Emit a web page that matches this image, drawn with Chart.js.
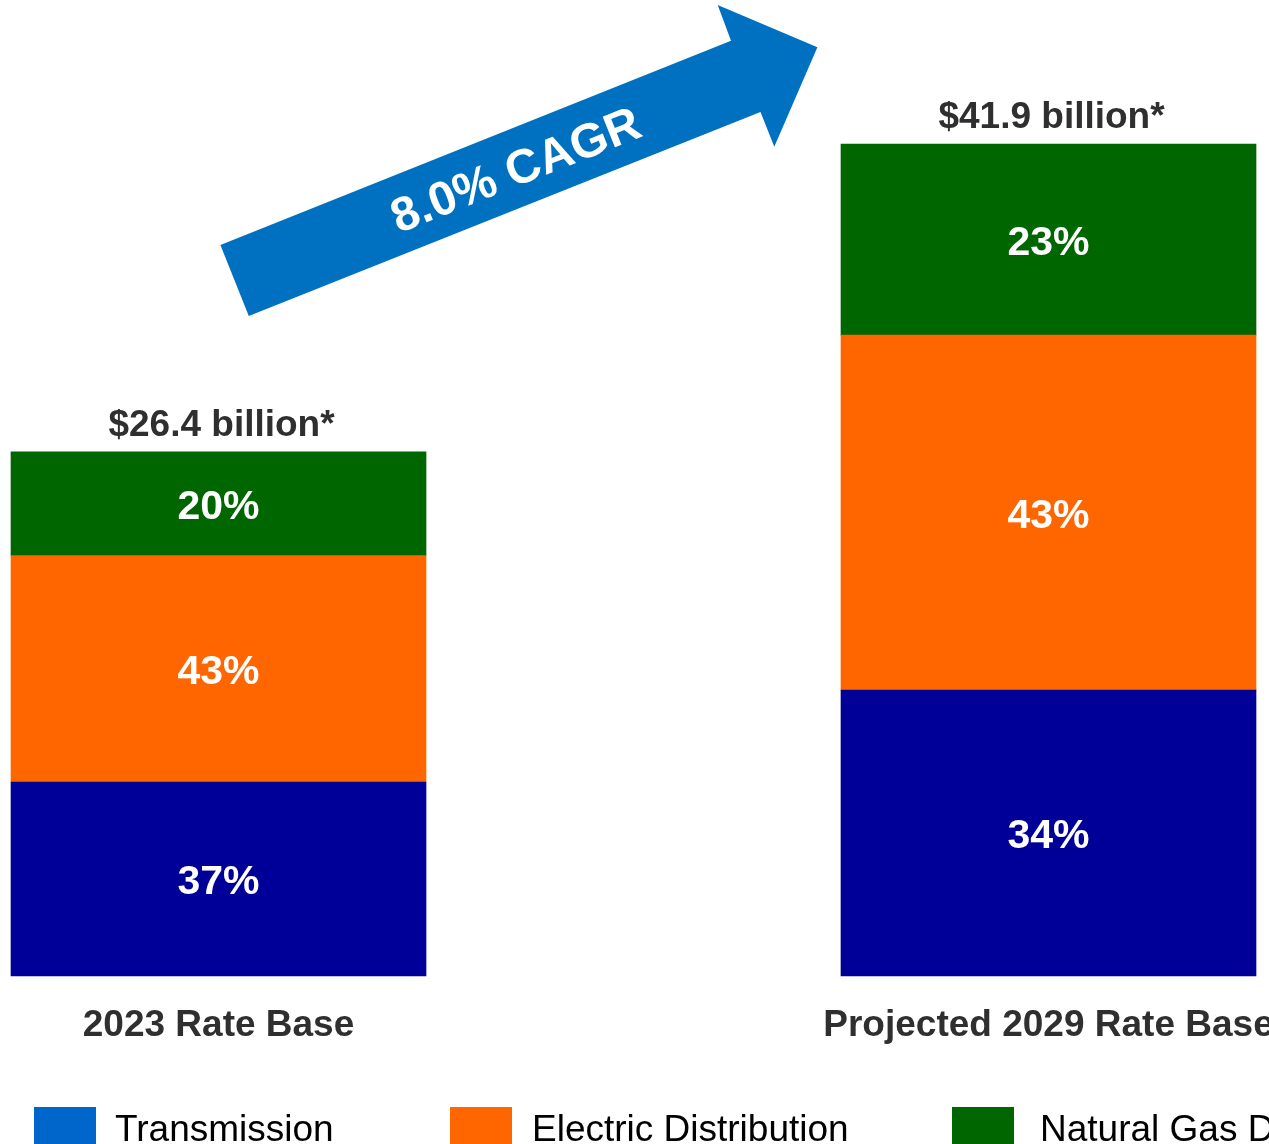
<!DOCTYPE html>
<html>
<head>
<meta charset="utf-8">
<script src="https://cdn.jsdelivr.net/npm/chart.js@4.4.1/dist/chart.umd.min.js"></script>
<style>
  html, body { margin: 0; padding: 0; background: #fff; overflow: hidden; }
  #wrap { width: 1269px; height: 1144px; }
</style>
</head>
<body>
<div id="wrap"><canvas id="rate-base"></canvas></div>
<script>
// Categories
let categories = ["2023 Rate Base", "Projected 2029 Rate Base"];

// Rate base by segment ($ billions)
let transmission = [9.77, 14.40];
let distribution = [11.40, 17.88];
let naturalGas = [5.23, 9.62];

// Labels shown on the bars
let transmissionPct = ["37%", "34%"];
let distributionPct = ["43%", "43%"];
let naturalGasPct = ["20%", "23%"];
let totals = ["$26.4 billion*", "$41.9 billion*"];
let cagrText = "8.0% CAGR";

// Colors
let navy = "#000099";
let legendBlue = "#0066CC";
let orange = "#FF6600";
let green = "#006600";
let arrowBlue = "#0070C0";
let gray = "#2f2f2f";

let fontFamily = '"Liberation Sans", Arial, sans-serif';
Chart.defaults.font.family = fontFamily;

// Big arrow with the CAGR text
const arrowPlugin = {
  id: 'cagrArrow',
  beforeDatasetsDraw(chart) {
    const ctx = chart.ctx;
    const pts = [[220.4, 245], [731, 40.7], [717.7, 5], [817.4, 47.3], [774.3, 146.7], [760.5, 112], [248.8, 316]];
    ctx.save();
    ctx.fillStyle = arrowBlue;
    ctx.beginPath();
    pts.forEach((p, i) => i ? ctx.lineTo(p[0], p[1]) : ctx.moveTo(p[0], p[1]));
    ctx.closePath();
    ctx.fill();
    ctx.translate(515.2, 168.8);
    ctx.rotate(-21.7 * Math.PI / 180);
    ctx.fillStyle = '#fff';
    ctx.font = 'bold 48px ' + fontFamily;
    ctx.textAlign = 'center';
    ctx.textBaseline = 'alphabetic';
    ctx.fillText(cagrText, 0, 17);
    ctx.restore();
  }
};

// Percent labels inside segments, totals above the bars
const labelsPlugin = {
  id: 'barLabels',
  afterDatasetsDraw(chart) {
    const ctx = chart.ctx;
    ctx.save();
    ctx.textAlign = 'center';
    ctx.fillStyle = '#fff';
    ctx.font = 'bold 41px ' + fontFamily;
    ctx.textBaseline = 'middle';
    chart.data.datasets.forEach((ds, i) => {
      chart.getDatasetMeta(i).data.forEach((bar, j) => {
        ctx.fillText(ds.pct[j], bar.x, (bar.y + bar.base) / 2 + 4);
      });
    });
    const topBars = chart.getDatasetMeta(chart.data.datasets.length - 1).data;
    ctx.fillStyle = gray;
    ctx.font = 'bold 37px ' + fontFamily;
    ctx.textBaseline = 'alphabetic';
    topBars.forEach((bar, j) => ctx.fillText(totals[j], bar.x + 3, bar.y - 16));
    ctx.restore();
  }
};

// Legend along the bottom edge
const legendPlugin = {
  id: 'bottomLegend',
  afterDraw(chart) {
    const ctx = chart.ctx;
    const boxX = [34, 450, 952];
    const textX = [115, 532, 1040];
    ctx.save();
    ctx.font = '37px ' + fontFamily;
    ctx.textAlign = 'left';
    ctx.textBaseline = 'alphabetic';
    chart.data.datasets.forEach((ds, i) => {
      ctx.fillStyle = ds.legendColor;
      ctx.fillRect(boxX[i], 1107, 62, 62);
      ctx.fillStyle = '#000';
      ctx.fillText(ds.label, textX[i], 1141);
    });
    ctx.restore();
  }
};

new Chart(document.getElementById("rate-base").getContext('2d'), {
  type: 'bar',
  data: {
    labels: categories,
    datasets: [{
      label: "Transmission",
      data: transmission,
      backgroundColor: navy,
      legendColor: legendBlue,
      pct: transmissionPct,
      barThickness: 415,
      clip: false
    }, {
      label: "Electric Distribution",
      data: distribution,
      backgroundColor: orange,
      legendColor: orange,
      pct: distributionPct,
      barThickness: 415,
      clip: false
    }, {
      label: "Natural Gas Distribution",
      data: naturalGas,
      backgroundColor: green,
      legendColor: green,
      pct: naturalGasPct,
      barThickness: 415,
      clip: false
    }]
  },
  options: {
    responsive: true,
    maintainAspectRatio: false,
    animation: false,
    layout: {
      padding: { left: 218.5, right: 220.5, top: 0, bottom: 67.6 }
    },
    plugins: {
      legend: { display: false },
      tooltip: { enabled: false }
    },
    scales: {
      x: {
        stacked: true,
        offset: false,
        grid: { display: false, drawTicks: false },
        border: { display: false },
        ticks: {
          color: gray,
          font: { size: 37, weight: 'bold' },
          padding: 28,
          maxRotation: 0,
          autoSkip: false
        },
        afterFit: s => { s.paddingLeft = 0; s.paddingRight = 0; }
      },
      y: {
        stacked: true,
        display: false,
        min: 0,
        max: 49.16
      }
    }
  },
  plugins: [arrowPlugin, labelsPlugin, legendPlugin]
});
</script>
</body>
</html>
